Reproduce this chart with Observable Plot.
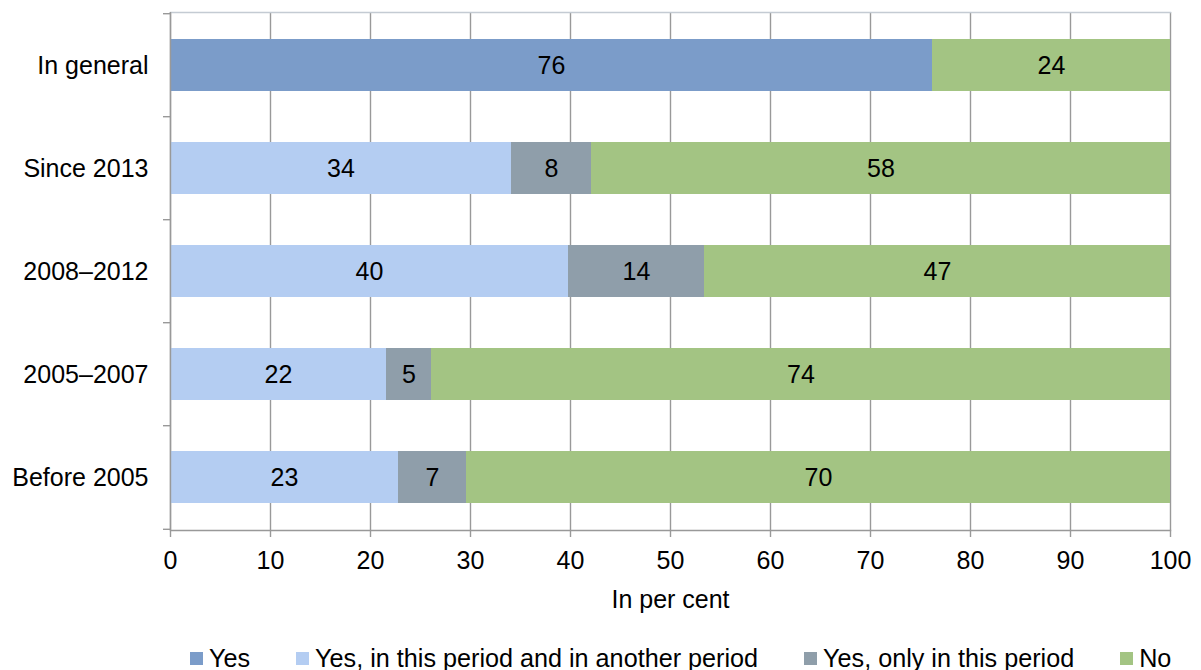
<!DOCTYPE html>
<html>
<head>
<meta charset="utf-8">
<script src="https://cdn.jsdelivr.net/npm/d3@7"></script>
<script src="https://cdn.jsdelivr.net/npm/@observablehq/plot@0.6"></script>
<style>
  html, body { margin: 0; padding: 0; background: #fff; }
  body { width: 1201px; height: 670px; overflow: hidden; font-family: "Liberation Sans", Arial, sans-serif; }
  #legend { display: flex; justify-content: flex-start; align-items: center; gap: 46px; height: 66px; font-size: 25.2px; color: #000; padding-left: 190px; box-sizing: border-box; }
  #legend .item { display: flex; align-items: center; white-space: nowrap; }
  #legend .sw { display: inline-block; width: 13px; height: 13px; margin-right: 6px; }
</style>
</head>
<body>
<div id="chart"></div>
<div id="legend"></div>
<script>
const categories = ["In general", "Since 2013", "2008–2012", "2005–2007", "Before 2005"];
const series = ["Yes", "Yes, in this period and in another period", "Yes, only in this period", "No"];
const colors = ["#7b9cc9", "#b4cdf2", "#8f9eaa", "#a3c483"];
const yesValues = [76.2, null, null, null, null];
const anotherValues = [null, 34.1, 39.8, 21.6, 22.8];
const onlyValues = [null, 8.0, 13.6, 4.5, 6.8];
const noValues = [23.8, 57.9, 46.6, 73.9, 70.4];
const xTicks = [0, 10, 20, 30, 40, 50, 60, 70, 80, 90, 100];
const axisTitle = "In per cent";

const seriesValues = [yesValues, anotherValues, onlyValues, noValues];
const rows = [];
categories.forEach((c, i) => {
  series.forEach((s, j) => {
    const v = seriesValues[j][i];
    if (v != null) rows.push({category: c, series: s, value: v});
  });
});

const W = 1201, H = 625, mt = 12, mb = 95, ml = 170, mr = 31;
const step = (H - mt - mb) / categories.length;
const gray = "#999999";
const font = "Liberation Sans, Arial, sans-serif";
const fs = 25;

const chart = Plot.plot({
  width: W, height: H,
  marginTop: mt, marginBottom: mb, marginLeft: ml, marginRight: mr,
  style: {fontFamily: font, fontSize: fs + "px", color: "#000", background: "#fff", overflow: "visible"},
  x: {domain: [0, 100], axis: null},
  y: {domain: categories, paddingInner: 0.5, paddingOuter: 0.25, axis: null},
  color: {domain: series, range: colors},
  marks: [
    Plot.gridX(xTicks, {stroke: gray, strokeOpacity: 1, strokeWidth: 1.4}),
    Plot.frame({anchor: "top", stroke: "#c4cbd3", strokeWidth: 1.4}),
    Plot.barX(rows, Plot.stackX({x: "value", y: "category", fill: "series"})),
    Plot.text(rows, Plot.stackX({x: "value", y: "category", text: d => Math.round(d.value), fill: "#000", fontSize: fs})),
    Plot.ruleX([0], {stroke: gray, strokeWidth: 1.4}),
    Plot.frame({anchor: "bottom", stroke: gray, strokeWidth: 1.4}),
    Plot.axisX(xTicks, {tickSize: 7, tickPadding: 14, fontSize: fs, stroke: gray, strokeWidth: 1.4, label: null, tickFormat: d => d}),
    Plot.axisY({tickSize: 0, tickPadding: 22, fontSize: fs, label: null}),
    Plot.axisY({text: null, tickSize: 7, dy: -step / 2, stroke: gray, strokeWidth: 1.4, label: null}),
    Plot.axisY([categories[categories.length - 1]], {text: null, tickSize: 7, dy: step / 2, stroke: gray, strokeWidth: 1.4, label: null}),
    Plot.text([axisTitle], {text: d => d, frameAnchor: "bottom", dy: 77, fontSize: fs, fill: "#000"})
  ]
});
document.getElementById("chart").appendChild(chart);

const legend = document.getElementById("legend");
series.forEach((s, j) => {
  const item = document.createElement("div");
  item.className = "item";
  const sw = document.createElement("span");
  sw.className = "sw";
  sw.style.background = colors[j];
  const t = document.createElement("span");
  t.textContent = s;
  item.appendChild(sw);
  item.appendChild(t);
  legend.appendChild(item);
});
</script>
</body>
</html>
